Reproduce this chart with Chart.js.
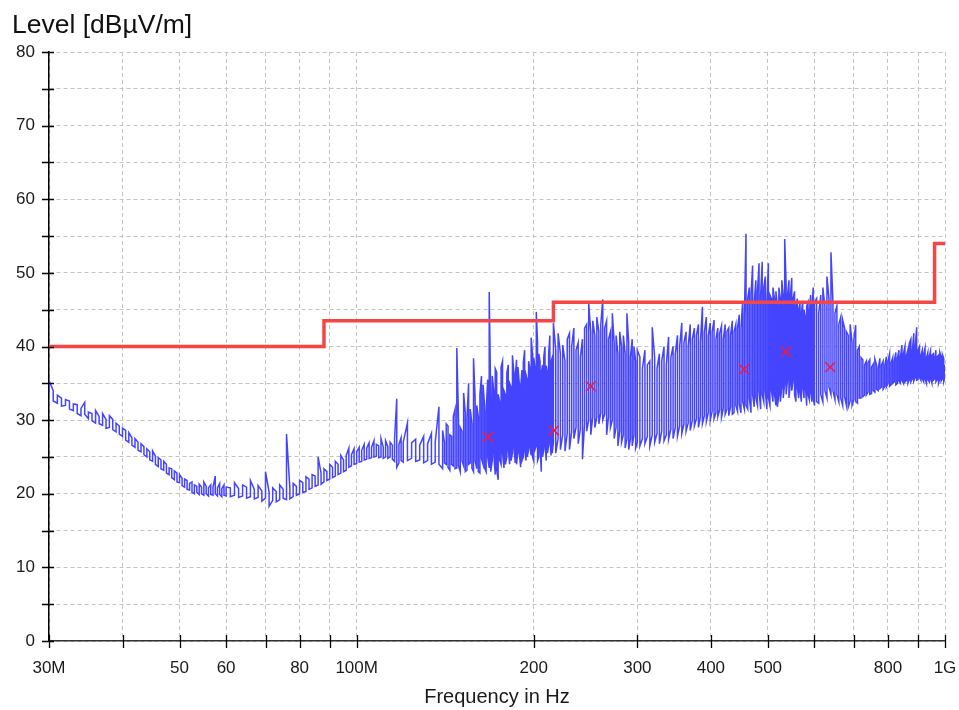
<!DOCTYPE html>
<html><head><meta charset="utf-8">
<script src="https://cdn.jsdelivr.net/npm/chart.js@4.4.1/dist/chart.umd.min.js"></script>
<style>html,body{margin:0;padding:0;background:#fff;}canvas{display:block;}</style>
</head><body>
<canvas id="c" width="959" height="710"></canvas>
<script>
const yAxisTitle = 'Level [dBµV/m]';
const xAxisTitle = 'Frequency in Hz';
const xGridValues = [30,40,50,60,70,80,90,100,200,300,400,500,600,700,800,900,1000];
const xLabelValues = [30,50,60,80,100,200,300,400,500,800,1000];
const xLabelTexts = ['30M','50','60','80','100M','200','300','400','500','800','1G'];

// Limit line (MHz, dBµV/m)
const limitFreq  = [30,88,88,216,216,960,960,1000];
const limitLevel = [40,40,43.5,43.5,46,46,54,54];

// Final measurement peaks (MHz, dBµV/m)
const peakFreq  = [167.4,216.5,250,455.5,536.7,638];
const peakLevel = [27.7,28.6,34.6,36.9,39.3,37.2];

// Pre-scan trace: [MHz, min dBµV/m, max dBµV/m]
const traceLow = [
[30,33.5,35.4],[30.5,32.6,34.0],[31,32.3,33.4],[31.5,31.9,33.0],[32,32.0,32.8],[32.5,31.5,32.6],[33,31.3,32.2],[33.5,30.9,32.1],
[34,30.6,31.6],[34.5,30.8,32.4],[35,30.2,31.1],[35.5,29.9,30.9],[36,29.6,31.3],[36.5,29.5,30.5],[37,29.3,30.9],[37.5,28.9,30.1],
[38,29.0,30.6],[38.5,28.7,30.1],[39,28.4,29.6],[39.5,28.1,29.2],[40,27.8,28.9],[40.5,27.3,28.6],[41,27.0,28.3],[41.5,26.6,27.6],
[42,26.3,27.5],[42.5,25.9,27.0],[43,25.7,26.8],[43.5,25.3,26.4],[44,25.0,26.1],[44.5,24.6,25.7],[45,24.4,25.8],[45.5,24.0,25.1],
[46,23.7,24.9],[46.5,23.4,24.6],[47,23.2,24.4],[47.5,22.8,24.0],[48,22.6,23.5],[48.5,22.2,23.4],[49,21.9,23.1],[49.5,21.6,22.8],
[50,21.5,22.6],[50.5,21.1,22.1],[51,20.9,22.0],[51.5,20.6,21.8],[52,20.5,21.4],[52.5,20.2,21.6],[53,20.0,21.2],[53.5,20.2,21.0],
[54,19.9,21.3],[54.5,20.0,20.9],[55,19.8,21.6],[55.5,20.0,21.0],[56,19.7,20.8],[56.5,19.9,21.2],[57,19.8,20.9],[57.5,20.0,22.4],
[58,19.7,20.8],[58.5,19.9,21.4],[59,19.6,20.7],[59.5,19.8,21.2],[60,19.7,20.9]
];
const traceMid = [
[61,19.6,20.8],[62,19.8,21.5],[63,19.5,20.7],[64,19.7,21.2],[65,19.4,20.9],[66,19.6,21.8],[67,19.3,20.6],[68,19.5,21.1],
[69,19.0,20.4],[70,19.4,23.0],[71,18.3,20.2],[72,19.1,20.8],[73,18.9,20.3],[74,19.2,21.2],[75,19.4,20.6],[76,19.2,28.1],
[77,19.3,20.8],[78,19.6,21.4],[79,19.8,21.0],[80,20.0,21.8],[81,20.2,21.5],[82,20.3,22.3],[83,20.6,22.0],[84,20.8,22.6],
[85,21.0,22.4],[86,21.2,25.0],[87,21.3,22.8],[88,21.6,23.4],[89,21.8,23.0],[90,22.0,24.0],[91,22.2,23.6],[92,22.4,24.4],
[93,22.6,24.0],[94,22.8,25.2],[95,23.0,24.6],[96,23.2,25.2],[97,23.6,26.2],[98,23.8,25.3],[99,24.0,26.1],[100,24.1,25.7],
[101,24.3,26.3],[102,24.4,25.9],[103,24.6,26.7],[104,24.7,26.2],[105,24.8,26.9],[106,24.9,26.3],[107,25.0,27.2],[108,25.1,26.7],
[109,24.9,26.5],[110,25.0,27.5],[111,24.8,26.3],[112,25.0,27.2],[113,24.8,26.4],[114,25.0,27.0],[115,24.7,26.6],[116,24.4,27.4],
[117,23.6,32.9],[118,24.2,26.7],[119,24.5,27.6],[120,24.3,27.0]
];
const traceBand = [
[122,24.5,29.6],[124,24.8,26.9],[126,24.4,27.4],[128,24.6,26.6],[130,24.2,27.8],[132,24.5,26.8],[134,24.0,28.2],[136,24.3,27.0],
[138,24.0,31.8],[140,23.4,28.6],[141,24.2,27.0],[142,24.0,29.5],[143,23.6,29.2],[144,23.2,28.0],[145,24.0,27.8],[146,23.8,30.5],
[147,23.4,31.5],[148,23.5,39.8],[149,23.8,30.0],[150,23.0,29.0],[151,24.5,28.5],[152,23.8,33.7],[153,23.0,31.0],[154,23.2,30.2],
[155,24.0,35.0],[156,24.2,31.5],[157,23.5,29.5],[158,23.0,38.4],[159,24.5,33.0],[160,23.4,32.0],[161,23.0,30.5],[162,22.8,33.5],
[163,24.8,36.0],[164,24.0,34.8],[165,23.5,32.0],[166,23.0,31.0],[167,25.0,35.5],[168,23.5,47.4],[169,23.0,33.0],[170,24.5,36.0],
[171,25.5,34.0],[172,22.6,37.0],[173,23.2,36.5],[174,21.9,33.5],[175,24.6,32.5],[176,24.0,37.2],[177,25.5,38.0],[178,23.5,34.0],
[179,24.0,33.5],[180,25.0,36.4],[181,26.0,37.5],[182,24.0,35.0],[183,24.5,34.5],[184,25.5,38.8],[185,26.5,36.5],[186,24.2,36.0],
[187,24.0,38.2],[188,25.8,37.2],[189,25.5,35.0],[190,23.6,34.5],[191,24.5,36.8],[192,25.0,37.8],[193,26.0,39.5],[194,24.5,36.2],
[195,25.0,35.5],[196,26.0,38.0],[197,26.5,37.0],[198,25.2,41.2],[199,25.0,39.0],[200,24.4,38.5],[201,26.0,37.0],[202,26.5,44.7],
[203,24.5,40.5],[204,25.0,39.0],[205,26.5,38.0],[206,23.0,36.5],[207,25.0,37.5],[208,26.0,38.6],[209,27.0,40.0],[210,24.5,37.4],
[211,25.5,36.5],[212,26.6,39.0],[213,27.5,41.5],[214,25.2,38.0],[215,25.5,38.5],[216,27.0,43.2],
[218,25.5,39.5],[220,27.5,41.8],[222,26.0,39.0],[224,28.0,40.2],[226,25.8,38.0],[228,28.2,41.0],[230,26.0,41.8],[232,28.5,40.0],
[234,27.5,42.5],[236,29.0,39.5],[238,26.8,40.5],[240,28.8,38.5],[242,24.7,41.0],[244,29.5,42.5],[246,28.5,43.0],[248,30.0,45.8],
[250,28.0,42.0],[252,30.5,43.5],[254,29.0,41.5],[256,30.4,44.0],[258,29.5,42.0],[260,31.0,43.0],[262,30.0,46.4],[264,30.8,42.5],
[266,28.0,43.5],[268,30.5,41.0],[270,29.0,42.0],[272,30.0,44.5],[274,27.5,40.5],[276,29.0,41.5],[278,26.5,39.0],[280,28.5,42.0],
[282,27.0,40.0],[284,28.0,41.5],[286,26.2,39.0],[288,27.5,44.5],[290,26.0,40.5],[292,27.5,38.6],[294,26.5,41.0],[296,28.0,40.0],
[298,26.2,38.0],[300,27.0,39.5]
];
const traceHigh = [
[303,26.5,38.6],[306,27.5,37.0],[309,26.8,39.5],[312,27.8,37.5],[315,26.5,38.0],[318,28.0,42.6],[321,27.0,38.5],[324,28.2,37.0],
[327,26.8,39.0],[330,28.5,38.0],[333,27.2,40.0],[336,28.0,37.5],[339,27.4,41.3],[342,28.8,38.5],[345,27.5,40.0],[348,29.0,39.0],
[351,27.8,41.5],[354,29.2,40.0],[357,28.2,43.2],[360,29.5,40.5],[363,28.5,42.0],[366,29.6,40.0],[369,28.6,43.0],[372,30.0,41.0],
[375,29.2,42.5],[378,30.2,41.5],[381,29.0,43.0],[384,30.5,40.5],[387,29.5,45.4],[390,30.6,42.0],[393,29.8,44.0],[396,31.0,41.5],
[399,30.0,43.2],[402,31.2,42.0],[405,30.2,43.6],[408,31.0,41.0],[411,30.5,42.5],[414,31.4,41.8],[417,30.4,42.8],[420,31.6,41.0],
[423,30.8,43.0],[426,31.5,42.0],[429,30.6,42.5],[432,31.8,41.5],[435,30.8,43.5],[438,31.0,42.0],[441,32.0,43.0],[444,31.2,42.5],
[447,32.2,44.3],[450,31.0,42.5],[453,32.5,46.0],[456,31.5,44.0],[459,32.0,55.3],[462,31.5,46.5],[465,33.0,48.0],[468,31.0,47.0],
[471,33.5,51.0],[474,31.8,46.0],[477,33.0,49.0],[480,32.0,47.5],[483,34.0,51.3],[486,31.5,47.0],[489,33.5,51.5],[492,32.5,48.0],
[495,34.0,49.5],[498,31.5,46.0],[501,33.0,51.3],[504,32.0,47.0],[507,34.0,46.5],[510,32.5,48.0],[513,33.5,46.5],[516,32.0,47.5],
[519,31.8,45.5],[522,33.5,48.0],[525,32.5,46.5],[528,34.5,49.0],[531,33.0,47.0],[534,35.0,54.6],[537,33.5,48.5],[540,35.5,47.0],
[543,33.0,49.0],[546,35.0,47.0],[549,34.0,49.3],[552,35.5,46.5],[555,33.5,47.5],[558,32.5,45.5],[561,34.5,46.5],[564,33.0,45.0],
[567,34.0,46.0],[570,32.5,44.5],[573,34.5,46.2],[576,33.0,45.0],[579,34.5,44.0],[582,32.0,45.5],[585,33.5,46.0],[588,32.8,44.5],
[591,34.0,47.0],[594,32.5,45.0],[597,33.0,48.0],[600,32.0,46.0]
];
const traceTop = [
[605,32.5,46.5],[610,32.3,44.5],[615,33.5,47.0],[620,32.5,48.0],[625,34.0,45.5],[630,33.0,49.5],[635,34.5,46.5],[640,33.5,52.8],
[645,34.0,46.0],[650,32.8,44.5],[655,33.5,45.5],[660,32.5,43.0],[665,33.0,44.0],[670,32.0,43.6],[675,33.2,42.5],[680,32.0,42.0],
[685,31.8,41.5],[690,32.6,43.0],[695,32.0,40.5],[700,32.8,41.0],[705,32.5,42.9],[710,32.3,39.5],[715,33.0,40.0],[720,33.0,38.5],
[725,33.2,38.2],[730,33.4,37.5],[735,33.4,38.0],[740,33.8,37.8],[745,33.5,38.2],[750,33.6,37.2],[755,34.0,37.6],[760,33.8,38.3],
[765,34.2,37.5],[770,34.0,37.0],[775,34.3,38.4],[780,34.5,37.5],[785,34.2,38.0],[790,34.6,37.4],[795,34.5,38.6],[800,35.0,38.0],
[805,34.6,39.0],[810,34.8,37.8],[815,35.0,38.5],[820,35.2,38.0],[825,34.8,39.2],[830,35.0,38.4],[835,35.3,39.5],[840,35.0,38.6],
[845,35.4,40.2],[850,35.0,39.0],[855,35.2,40.0],[860,35.4,38.8],[865,35.0,39.6],[870,35.5,40.5],[875,35.2,41.0],[880,35.6,39.4],
[885,35.3,41.8],[890,35.8,40.0],[895,35.4,42.6],[900,35.5,39.5],[905,35.8,40.0],[910,35.4,38.8],[915,35.6,39.5],[920,35.2,39.0],
[925,35.6,39.8],[930,35.0,38.5],[935,35.5,39.2],[940,35.2,38.6],[945,35.6,39.4],[950,35.0,38.8],[955,35.4,39.0],[960,35.6,38.4],
[965,35.2,39.5],[970,35.5,38.6],[975,35.0,38.8],[980,35.6,39.2],[985,35.3,38.6],[990,35.6,38.9],[995,35.2,38.4],[1000,35.8,37.5]
];

// each sample is drawn as a vertical stroke min->max (alternating direction)
const traceData = [];
[].concat(traceLow, traceMid, traceBand, traceHigh, traceTop).forEach((s, i) => {
  if (i % 2 === 0) { traceData.push({x:s[0], y:s[1]}, {x:s[0], y:s[2]}); }
  else { traceData.push({x:s[0], y:s[2]}, {x:s[0], y:s[1]}); }
});
const limitData = limitFreq.map((f,i) => ({x:f, y:limitLevel[i]}));
const peakData = peakFreq.map((f,i) => ({x:f, y:peakLevel[i]}));

const FONT = '"Liberation Sans", Arial, sans-serif';

const decorPlugin = {
  id: 'decor',
  afterDraw(chart) {
    const {ctx, chartArea:a, scales:{x, y}} = chart;
    ctx.save();
    ctx.strokeStyle = '#000';
    ctx.lineWidth = 1.3;
    ctx.beginPath();
    y.ticks.forEach(t => {
      const py = Math.round(y.getPixelForValue(t.value)) + 0.5;
      ctx.moveTo(a.left - 7, py); ctx.lineTo(a.left + 5, py);
    });
    x.ticks.forEach(t => {
      const px = Math.round(x.getPixelForValue(t.value)) + 0.5;
      ctx.moveTo(px, a.bottom - 6); ctx.lineTo(px, a.bottom + 7);
    });
    ctx.stroke();
    ctx.fillStyle = '#111';
    ctx.font = '26.5px ' + FONT;
    ctx.textBaseline = 'alphabetic';
    ctx.textAlign = 'left';
    ctx.fillText(yAxisTitle, 12, 33);
    ctx.restore();
  }
};

new Chart(document.getElementById('c'), {
  type: 'line',
  data: {
    datasets: [
      { data: peakData, showLine: false, pointStyle: 'crossRot', pointRadius: 7,
        borderColor: '#ee1c3c', backgroundColor: '#ee1c3c', pointBorderWidth: 1.5, order: 0 },
      { data: limitData, borderColor: 'rgb(245,70,70)', borderWidth: 3.5, pointRadius: 0, order: 1 },
      { data: traceData, borderColor: 'rgb(68,68,255)', borderWidth: 1.5, pointRadius: 0, order: 2 }
    ]
  },
  options: {
    responsive: false,
    animation: false,
    devicePixelRatio: 1,
    layout: { padding: { top: 52, right: 14, left: 0, bottom: 0 } },
    plugins: { legend: { display: false }, tooltip: { enabled: false } },
    scales: {
      x: {
        type: 'logarithmic', min: 30, max: 1000,
        afterFit: s => { s.height = 69; s.paddingLeft = 0; s.paddingRight = 0; },
        afterBuildTicks: s => { s.ticks = xGridValues.map(v => ({value: v})); },
        ticks: {
          autoSkip: false, maxRotation: 0, padding: 17, color: '#1a1a1a',
          font: { family: FONT, size: 17 },
          callback: v => { const i = xLabelValues.indexOf(v); return i >= 0 ? xLabelTexts[i] : ''; }
        },
        grid: { color: '#c4c4c4', lineWidth: 1, drawTicks: false },
        border: { display: true, color: '#333', width: 1.5, dash: [4,3] },
        title: { display: true, text: xAxisTitle, color: '#1a1a1a',
                 font: { family: FONT, size: 20 }, padding: { top: 0, bottom: 1 } }
      },
      y: {
        min: 0, max: 80,
        afterFit: s => { s.width = 49; s.paddingTop = 0; s.paddingBottom = 0; },
        ticks: {
          stepSize: 5, autoSkip: false, padding: 14, color: '#1a1a1a',
          font: { family: FONT, size: 17 },
          callback: v => (v % 10 === 0 ? String(v) : '')
        },
        grid: { color: '#c4c4c4', lineWidth: 1, drawTicks: false },
        border: { display: true, color: '#000', width: 1.5, dash: [4,3] }
      }
    }
  },
  plugins: [decorPlugin]
});
</script>
</body></html>
